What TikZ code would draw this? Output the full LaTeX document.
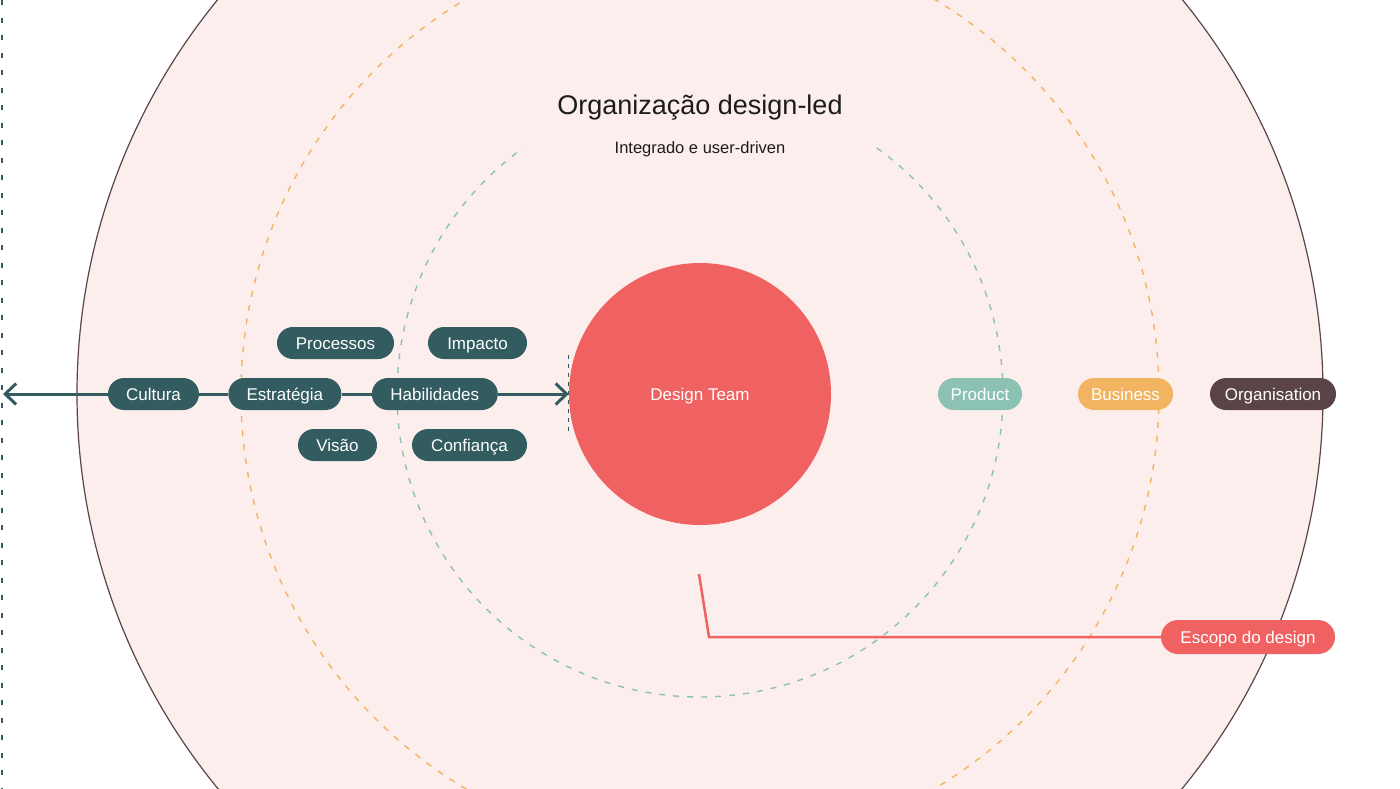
\documentclass[tikz,border=0pt]{standalone}
\usepackage{fontspec}
\setmainfont{Liberation Sans}
\usetikzlibrary{arrows.meta, positioning}
\definecolor{clrTeal}{HTML}{335C61}
\definecolor{clrRed}{HTML}{F06161}
\definecolor{clrSage}{HTML}{8CC2B4}
\definecolor{clrGold}{HTML}{F2B460}
\definecolor{clrPlum}{HTML}{5A4448}
\definecolor{clrBlush}{HTML}{FDEEEE}
\definecolor{clrInk}{HTML}{1C1C1C}
\tikzset{
  pill/.style = {rectangle, rounded corners=16pt, minimum height=32pt, inner xsep=0pt,
                 text height=14pt, text depth=2pt,
                 align=center, font=\fontsize{17}{20}\selectfont, text=white, fill=clrTeal},
  ring/.style = {dash pattern=on 6pt off 8pt, line width=1.4pt},
  link/.style = {line width=3pt, draw=clrTeal},
  barb/.style = {-{Straight Barb[length=11pt, width=21pt, line width=3pt]}},
}

\begin{document}
\begin{tikzpicture}[
  x=1pt, y=-1pt,
  core/.style = {circle, minimum size=262pt, inner sep=0pt, fill=clrRed, text=white,
                 text height=14pt, text depth=2pt, font=\fontsize{17}{20}\selectfont},
  heading/.style = {font=\fontsize{27}{32}\selectfont, text=clrInk},
  subheading/.style = {font=\fontsize{16.5}{20}\selectfont, text=clrInk},
]
  \useasboundingbox (0,0) rectangle (1400,788);
  \clip (0,0) rectangle (1400,788);
  \fill[white] (0,0) rectangle (1400,788);

  % Scope rings
  \filldraw[fill=clrBlush, draw=clrPlum, line width=1.2pt] (700,394) circle[radius=623];
  \draw[ring, clrGold] (700,394) circle[radius=459];
  \draw[ring, clrSage] (700,394) ++(-54.3:303) arc[start angle=-54.3, end angle=234.3, radius=303];

  % Left border
  \draw[clrTeal, line width=2.2pt, dash pattern=on 5pt off 12.5pt] (2,0) -- (2,788);

  % Titles
  \node[heading]    (title)    at (700,108) {Organização design-led};
  \node[subheading] (subtitle) at (700,149) {Integrado e user-driven};

  % Centre
  \node[core] (team) at (700,394) {Design Team};
  \draw[clrTeal, line width=1pt, dash pattern=on 4pt off 5pt] (team.west) ++(0,-39) -- ++(0,78);

  % Left chain: Cultura -> Estrategia -> Habilidades
  \node[pill, minimum width=91pt] (cultura) at (153.5,394) {Cultura};
  \node[pill, minimum width=113pt, right=29pt of cultura] (estrategia) {Estratégia};
  \node[pill, minimum width=126pt, right=30pt of estrategia] (habilidades) {Habilidades};

  \node[pill, minimum width=117pt] (processos) at (335.5,343) {Processos};
  \node[pill, minimum width=99pt]  (impacto)   at (477.5,343) {Impacto};
  \node[pill, minimum width=79pt]  (visao)     at (337.5,445) {Visão};
  \node[pill, minimum width=115pt] (confianca) at (469.5,445) {Confiança};

  \coordinate (edge) at (3,394);
  \draw[link, barb] (cultura) -- (edge);
  \draw[link] (cultura) -- (estrategia);
  \draw[link] (estrategia) -- (habilidades);
  \draw[link, barb] (habilidades) -- (team);

  % Right: ring labels
  \node[pill, minimum width=84pt,  fill=clrSage] (product)      at (980,394)    {Product};
  \node[pill, minimum width=95pt,  fill=clrGold] (business)     at (1125.5,394) {Business};
  \node[pill, minimum width=126pt, fill=clrPlum] (organisation) at (1273,394)   {Organisation};

  % Design scope callout
  \node[pill, minimum width=174pt, minimum height=34pt, rounded corners=17pt, fill=clrRed]
       (escopo) at (1248,637) {Escopo do design};
  \coordinate (tail) at (699,574);
  \coordinate (knee) at (709,637);
  \draw[line width=2.5pt, clrRed] (tail) -- (knee) -- (escopo.west);

\end{tikzpicture}
\end{document}
